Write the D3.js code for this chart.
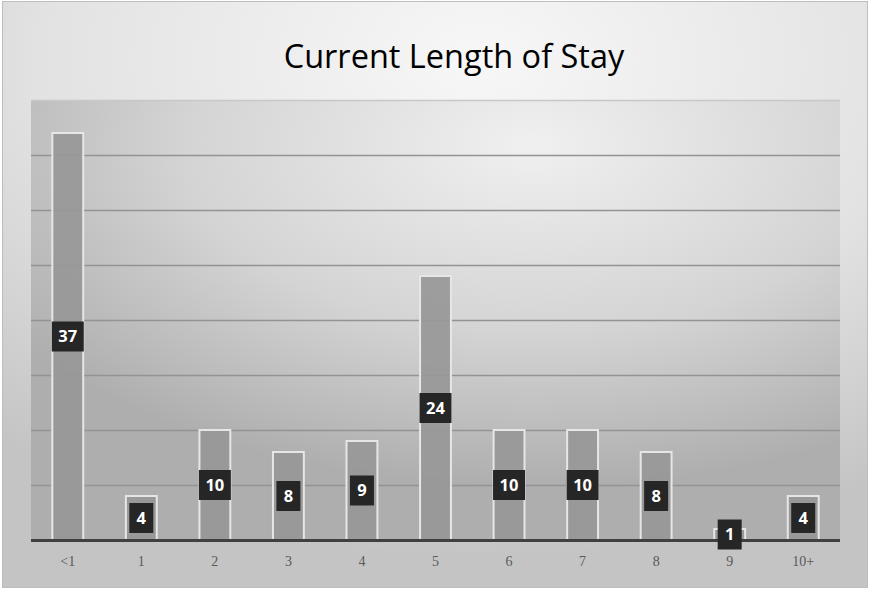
<!DOCTYPE html>
<html>
<head>
<meta charset="utf-8">
<script src="https://cdn.jsdelivr.net/npm/d3@7"></script>
<style>
	body { margin: 0; background: #fff; }
	svg { display: block; }
</style>
</head>
<body>
<div id="chart"></div>
<script>

const categories = ["<1", "1", "2", "3", "4", "5", "6", "7", "8", "9", "10+"];
const stayCounts = [37, 4, 10, 8, 9, 24, 10, 10, 8, 1, 4];
const yTicks = [5, 10, 15, 20, 25, 30, 35, 40];
const chartTitle = "Current Length of Stay";

const width = 870, height = 590;
const plot = { left: 31, right: 840, top: 100, bottom: 540 };

const svg = d3.select('#chart').append('svg')
	.attr('width', width)
	.attr('height', height);

const defs = svg.append('defs');

// outer background
const bgGrad = defs.append('radialGradient')
	.attr('id', 'bgGrad')
	.attr('cx', '0.55').attr('cy', '0.1').attr('r', '0.85');
bgGrad.append('stop').attr('offset', '0%').attr('stop-color', '#f7f7f7');
bgGrad.append('stop').attr('offset', '60%').attr('stop-color', '#e2e2e2');
bgGrad.append('stop').attr('offset', '100%').attr('stop-color', '#c4c4c4');

// plot area background
const plotGrad = defs.append('radialGradient')
	.attr('id', 'plotGrad')
	.attr('cx', '0.62').attr('cy', '0.1').attr('r', '0.78');
plotGrad.append('stop').attr('offset', '0%').attr('stop-color', '#f0f0f0');
plotGrad.append('stop').attr('offset', '55%').attr('stop-color', '#d4d4d4');
plotGrad.append('stop').attr('offset', '100%').attr('stop-color', '#aeaeae');

svg.append('rect')
	.attr('x', 2.5).attr('y', 1.5)
	.attr('width', width - 5).attr('height', height - 4)
	.attr('fill', 'url(#bgGrad)')
	.attr('stroke', '#bdbdbd');

svg.append('rect')
	.attr('x', plot.left).attr('y', plot.top)
	.attr('width', plot.right - plot.left).attr('height', plot.bottom - plot.top)
	.attr('fill', 'url(#plotGrad)');

svg.append('text')
	.attr('x', 454).attr('y', 68)
	.attr('text-anchor', 'middle')
	.style('font-family', '"Open Sans", "Noto Sans", sans-serif')
	.style('font-size', '32.5px')
	.attr('fill', '#000')
	.text(chartTitle);

const x = d3.scaleBand()
	.domain(categories)
	.range([plot.left, plot.right])
	.paddingInner(0.58)
	.paddingOuter(0.29);

const y = d3.scaleLinear()
	.domain([0, 40])
	.range([plot.bottom, plot.top]);

// gridlines
svg.append('g')
	.selectAll('line')
	.data(yTicks)
	.enter().append('line')
	.attr('x1', plot.left).attr('x2', plot.right)
	.attr('y1', d => Math.round(y(d)) + 0.5)
	.attr('y2', d => Math.round(y(d)) + 0.5)
	.attr('stroke', d => d === 40 ? '#c8c8c8' : '#939393')
	.attr('stroke-width', 1.3);

// bars
svg.append('g')
	.selectAll('rect')
	.data(stayCounts)
	.enter().append('rect')
	.attr('x', (d, i) => x(categories[i]))
	.attr('y', d => y(d))
	.attr('width', x.bandwidth())
	.attr('height', d => y(0) - y(d))
	.attr('fill', '#989898')
	.attr('fill-opacity', 0.93)
	.attr('stroke', '#e6e6e6')
	.attr('stroke-width', 2);

// axis line
svg.append('line')
	.attr('x1', plot.left).attr('x2', plot.right)
	.attr('y1', y(0) + 0.5).attr('y2', y(0) + 0.5)
	.attr('stroke', '#404040')
	.attr('stroke-width', 3);

// x labels
const xAxis = svg.append('g')
	.attr('transform', `translate(0,${plot.bottom})`)
	.call(d3.axisBottom(x).tickSize(0).tickPadding(16));
xAxis.select('.domain').remove();
xAxis.selectAll('text')
	.style('font-family', '"Liberation Serif", "Times New Roman", serif')
	.style('font-size', '14px')
	.attr('fill', '#595959');

// data labels, centred in the bars
const labels = svg.append('g')
	.selectAll('g')
	.data(stayCounts)
	.enter().append('g')
	.attr('transform', (d, i) => `translate(${x(categories[i]) + x.bandwidth() / 2},${(y(d) + y(0)) / 2})`);

labels.append('rect')
	.attr('x', d => d >= 10 ? -16 : -12)
	.attr('y', -15)
	.attr('width', d => d >= 10 ? 32 : 24)
	.attr('height', 30)
	.attr('fill', '#262626');

labels.append('text')
	.attr('text-anchor', 'middle')
	.attr('dy', '0.36em')
	.style('font-family', '"Open Sans", "Noto Sans", sans-serif')
	.style('font-size', '16.5px')
	.style('font-weight', 'bold')
	.attr('fill', '#fff')
	.text(d => d);

</script>
</body>
</html>
